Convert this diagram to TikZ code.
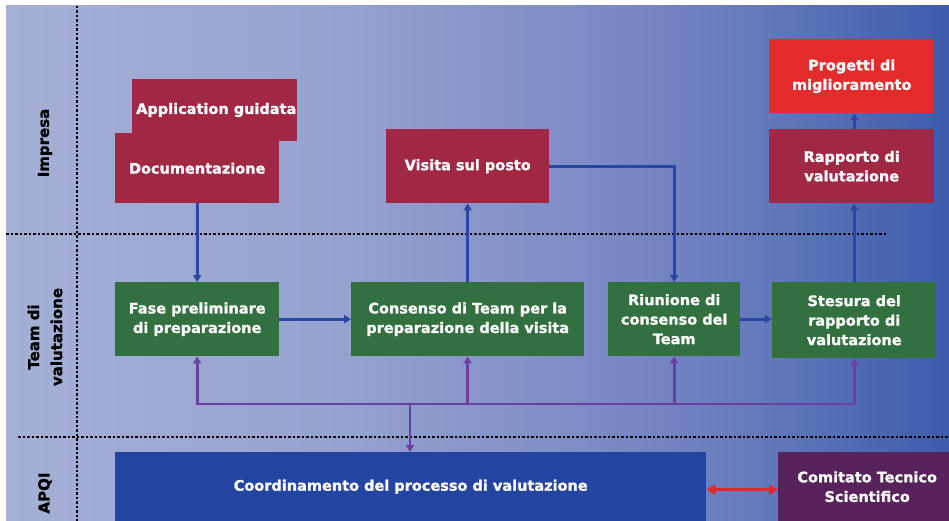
\documentclass[tikz,border=0pt]{standalone}
\usepackage{fontspec}
\setmainfont{DejaVu Sans}[BoldFeatures={FakeBold=1.2}]
\usetikzlibrary{arrows.meta}
\definecolor{bg0}{HTML}{A5B0D6}
\definecolor{bg1}{HTML}{97A3D0}
\definecolor{bg2}{HTML}{808DC6}
\definecolor{bg3}{HTML}{6479BC}
\definecolor{bg4}{HTML}{3C5CAB}
\definecolor{maroon}{HTML}{A12845}
\definecolor{redbox}{HTML}{E22B2A}
\definecolor{greenbox}{HTML}{33703F}
\definecolor{bluebox}{HTML}{2344A0}
\definecolor{purplebox}{HTML}{57235A}
\definecolor{bluearrow}{HTML}{2747A2}
\definecolor{purplearrow}{HTML}{6B3FA1}
\definecolor{redarrow}{HTML}{E3262A}
\pgfdeclarehorizontalshading{bgshade}{100bp}{color(0bp)=(bg0); color(25bp)=(bg0); color(42bp)=(bg1); color(55bp)=(bg2); color(65bp)=(bg3); color(75bp)=(bg4); color(100bp)=(bg4)}
\begin{document}
\begin{tikzpicture}[x=1pt,y=-1pt,
  box/.style={anchor=north west, inner sep=2pt, align=center, text=white,
    font=\fontsize{14.5}{19.5}\selectfont\bfseries},
  lane/.style={rotate=90, align=center, font=\fontsize{15}{23}\selectfont\bfseries},
  dots/.style={line width=2.5pt, dash pattern=on 2.5pt off 2pt},
  barrow/.style={bluearrow, line width=2.8pt, -{Triangle[width=8pt,length=7pt]}},
  parrow/.style={purplearrow, line width=2.8pt, -{Triangle[width=8pt,length=7pt]}},
  pline/.style={purplearrow, line width=2.8pt}
]
\useasboundingbox (0,0) rectangle (949,521);
\fill[white] (0,0) rectangle (949,521);
\shade[shading=bgshade] (6,6) rectangle (949,521);

% separators
\draw[dots] (77,6) -- (77,521);
\draw[dots] (6,234) -- (888,234);
\draw[dots] (18,437) -- (949,437);

% lane labels
\node[lane] (limp) at (45,143) {Impresa};
\node[lane] (lteam) at (45,337) {Team di\\valutazione};
\node[lane] (lapqi) at (45,493) {APQI};

% boxes
\node[box, fill=maroon, minimum width=165pt, minimum height=62pt] (appl) at (132,79) {};
\node[box, fill=maroon, minimum width=164pt, minimum height=70pt] (docu) at (115,133) {Documentazione};
\node[text=white, font=\fontsize{14.5}{19.5}\selectfont\bfseries, anchor=west, inner sep=0pt] (appltxt) at (136,110) {Application guidata};
\node[box, fill=maroon, minimum width=163pt, minimum height=74pt] (visita) at (386,129) {Visita sul posto};
\node[box, fill=redbox, minimum width=165pt, minimum height=74pt] (progetti) at (769,39) {Progetti di\\miglioramento};
\node[box, fill=maroon, minimum width=165pt, minimum height=74pt] (rapporto) at (769,129) {Rapporto di\\valutazione};
\node[box, fill=greenbox, minimum width=164pt, minimum height=74pt] (fase) at (115,282) {Fase preliminare\\di preparazione};
\node[box, fill=greenbox, minimum width=233pt, minimum height=74pt] (consenso) at (351,282) {Consenso di Team per la\\preparazione della visita};
\node[box, fill=greenbox, minimum width=132pt, minimum height=74pt] (riunione) at (608,282) {Riunione di\\consenso del\\Team};
\node[box, fill=greenbox, minimum width=164pt, minimum height=76pt] (stesura) at (772,282) {Stesura del\\rapporto di\\valutazione};
\node[box, fill=bluebox, minimum width=591pt, minimum height=69pt] (coord) at (115,452) {Coordinamento del processo di valutazione};
\node[box, fill=purplebox, minimum width=178pt, minimum height=69pt] (comitato) at (778,452) {Comitato Tecnico\\Scientifico};

% blue connectors
\draw[barrow] (docu.south) -- (fase.north);
\draw[barrow] (consenso.north) -- (visita.south);
\draw[barrow] (visita.east) -| (riunione.north);
\draw[barrow] (fase.east) -- (consenso.west);
\draw[barrow] (riunione.east) -- (riunione.east -| stesura.west);
\draw[barrow] (stesura.north) -- (stesura.north |- rapporto.south);
\draw[barrow] (rapporto.north -| stesura.north) -- (stesura.north |- progetti.south);

% purple bus
\coordinate (busL) at (197,404);
\coordinate (busR) at (854,404);
\coordinate (busD) at (410,404);
\draw[pline] ([xshift=-1.4pt]busL) -- ([xshift=1.4pt]busR);
\draw[parrow] (fase.south |- busL) -- (fase.south);
\draw[parrow] (consenso.south |- busL) -- (consenso.south);
\draw[parrow] (riunione.south |- busL) -- (riunione.south);
\draw[parrow] (stesura.south |- busL) -- (stesura.south);
\draw[parrow] (busD) -- (busD |- coord.north);

% red double arrow
\draw[redarrow, line width=2.8pt, {Triangle[width=10pt,length=9pt]}-{Triangle[width=10pt,length=9pt]}] ([yshift=-3pt]coord.east) -- ([yshift=-3pt]comitato.west);
\end{tikzpicture}
\end{document}
